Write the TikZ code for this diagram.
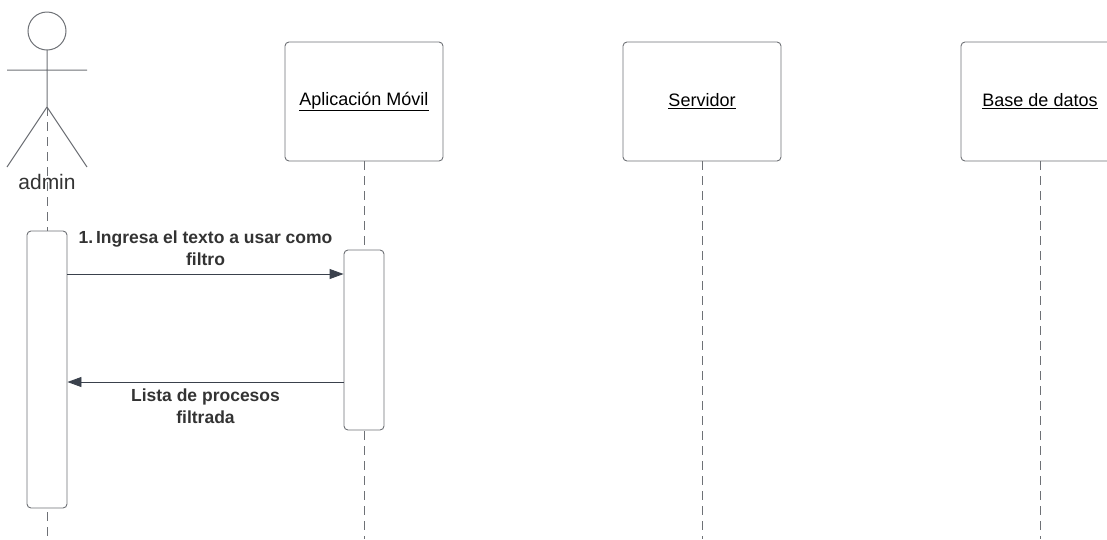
\documentclass[tikz,border=0pt]{standalone}
\usepackage{fontspec}
\setmainfont{Liberation Sans}
\usepackage{xcolor}
\usetikzlibrary{arrows.meta}

\begin{document}
\begin{tikzpicture}[x=1pt,y=-1pt,
  lifebox/.style={draw=linegray,rounded corners=4,fill=white,minimum width=158,minimum height=119,inner sep=0,line width=0.9},
  actbox/.style={draw=linegray,rounded corners=4,fill=white,minimum width=40,inner sep=0,line width=0.9},
  lifeline/.style={draw=linegray,dash pattern=on 9 off 6,line width=0.8},
  msg/.style={draw=arrowink,line width=0.9,-{Triangle[length=14,width=10]}},
  msglabel/.style={font=\bfseries\fontsize{17.5}{22}\selectfont,text=textink,align=center,inner sep=0}]
\definecolor{linegray}{HTML}{6E7176}
\definecolor{arrowink}{HTML}{3A414C}
\definecolor{textink}{HTML}{333333}
\useasboundingbox (0,0) rectangle (1107,539);
% actor
\coordinate (hip) at (47,107);
\draw[linegray,line width=1] (47,31) circle (19);
\draw[linegray,line width=1] (47,50) -- (hip) (7,70) -- (87,70)
  (7,167) -- (hip) -- (87,167);
\node[text=textink,font=\fontsize{21}{25}\selectfont] (admin) at (47,182) {admin};
\coordinate (adminend) at (47,539);
\draw[lifeline] (hip) -- (adminend);
  \foreach \nm/\txt/\pos in {app/Aplicación Móvil/364,srv/Servidor/702,db/Base de datos/1040}
  {  \node [lifebox,font=\fontsize{18}{20}\selectfont] (\nm) at (\pos,101.5) {\underline{\txt}};
     \coordinate (\nm end) at (\pos,539);
     \draw[lifeline] (\nm.south) -- (\nm end);}
% activations
\node[actbox,minimum height=277] (actadmin) at (47,369.5) {};
\node[actbox,minimum height=180] (actapp) at (364,340) {};
% messages
\draw[msg] (actadmin.east |- 0,274) -- (actapp.west |- 0,274)
  node[msglabel,midway,above=8] (m1) {1.\,Ingresa el texto a usar como\\filtro};
\draw[msg] (actapp.west |- 0,382) -- (actadmin.east |- 0,382)
  node[msglabel,midway,below=6] (m2) {Lista de procesos\\filtrada};
\end{tikzpicture}
\end{document}
